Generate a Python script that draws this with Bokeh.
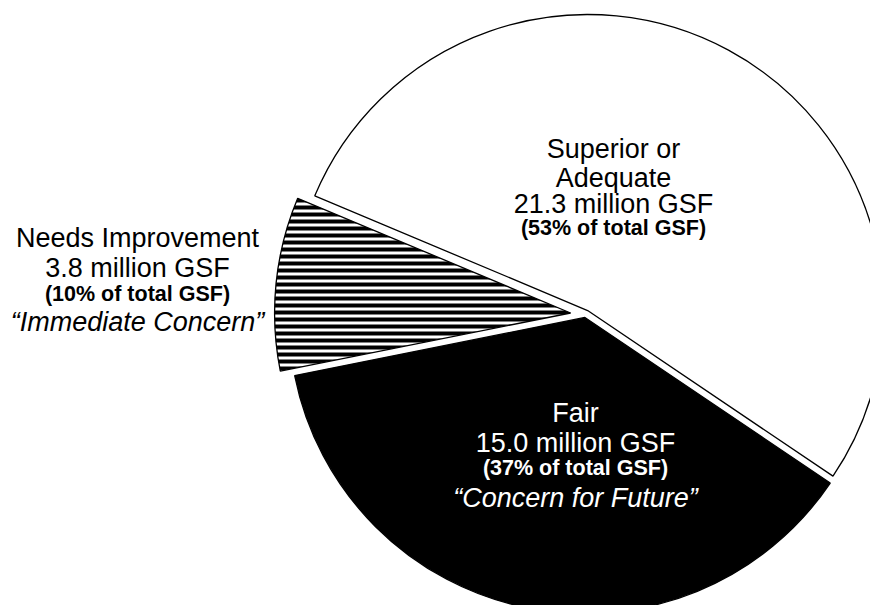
import math
from bokeh.plotting import figure
from bokeh.models import Range1d
from bokeh.core.properties import value
from bokeh.embed import file_html
from bokeh.resources import INLINE

# ---- data ----
categories = ["Superior or Adequate", "Fair", "Needs Improvement"]
title_lines = [["Superior or", "Adequate"], ["Fair"], ["Needs Improvement"]]
gsf_million = [21.3, 15.0, 3.8]
pct_of_total = [53, 37, 10]
concern = ["", "\u201cConcern for Future\u201d", "\u201cImmediate Concern\u201d"]

# ---- styles / layout ----
fills = ["white", "black", "white"]
hatches = [None, None, "horizontal_line"]
text_colors = ["black", "white", "black"]
explode = [4.5, 3.0, 15.0]
start_deg = 157.2
radius = 296
# label anchors in page pixels: centre x, baselines of lines
label_x = [613, 575, 137]
label_baselines = [[148, 177, 203, 227], [412, 442, 467, 497], [237, 267, 293, 321]]
CX, CY = 585, 314  # pie centre in page pixels
PAGE_OFFSET = 0     # figure's top-left position on the page

W, H = 870, 605
p = figure(width=W, height=H, output_backend="svg", toolbar_location=None,
           x_range=Range1d(PAGE_OFFSET - CX, PAGE_OFFSET + W - CX),
           y_range=Range1d(CY - PAGE_OFFSET - H, CY - PAGE_OFFSET),
           min_border=0, background_fill_color="white", border_fill_color="white")
p.axis.visible = False
p.grid.visible = False
p.outline_line_color = None

total = sum(gsf_million)
a = math.radians(start_deg)
for i, v in enumerate(gsf_million):
    span = v / total * 2 * math.pi
    mid = a - span / 2
    x0 = explode[i] * math.cos(mid)
    y0 = explode[i] * math.sin(mid)
    kw = dict(x=[x0], y=[y0], radius=radius, start_angle=[a], end_angle=[a - span],
              direction="clock", fill_color=fills[i], line_color="black", line_width=1.3)
    if hatches[i]:
        kw.update(hatch_pattern=hatches[i], hatch_color="black", hatch_scale=7, hatch_weight=4)
    p.wedge(**kw)
    a -= span

font = value("Liberation Sans")
for i in range(len(categories)):
    lines = []
    for t in title_lines[i]:
        lines.append((t, "normal", "27px"))
    lines.append((f"{gsf_million[i]:.1f} million GSF", "normal", "27px"))
    lines.append((f"({pct_of_total[i]}% of total GSF)", "bold", "21.5px"))
    if concern[i]:
        lines.append((concern[i], "italic", "27px"))
    for (t, style, size), by in zip(lines, label_baselines[i]):
        p.text(x=[label_x[i] - CX], y=[CY - by], text=[t], text_font=font,
               text_font_size=value(size), text_font_style=style,
               text_align="center", text_baseline="alphabetic",
               text_color=text_colors[i])

open("out.html", "w").write(file_html(p, INLINE))
